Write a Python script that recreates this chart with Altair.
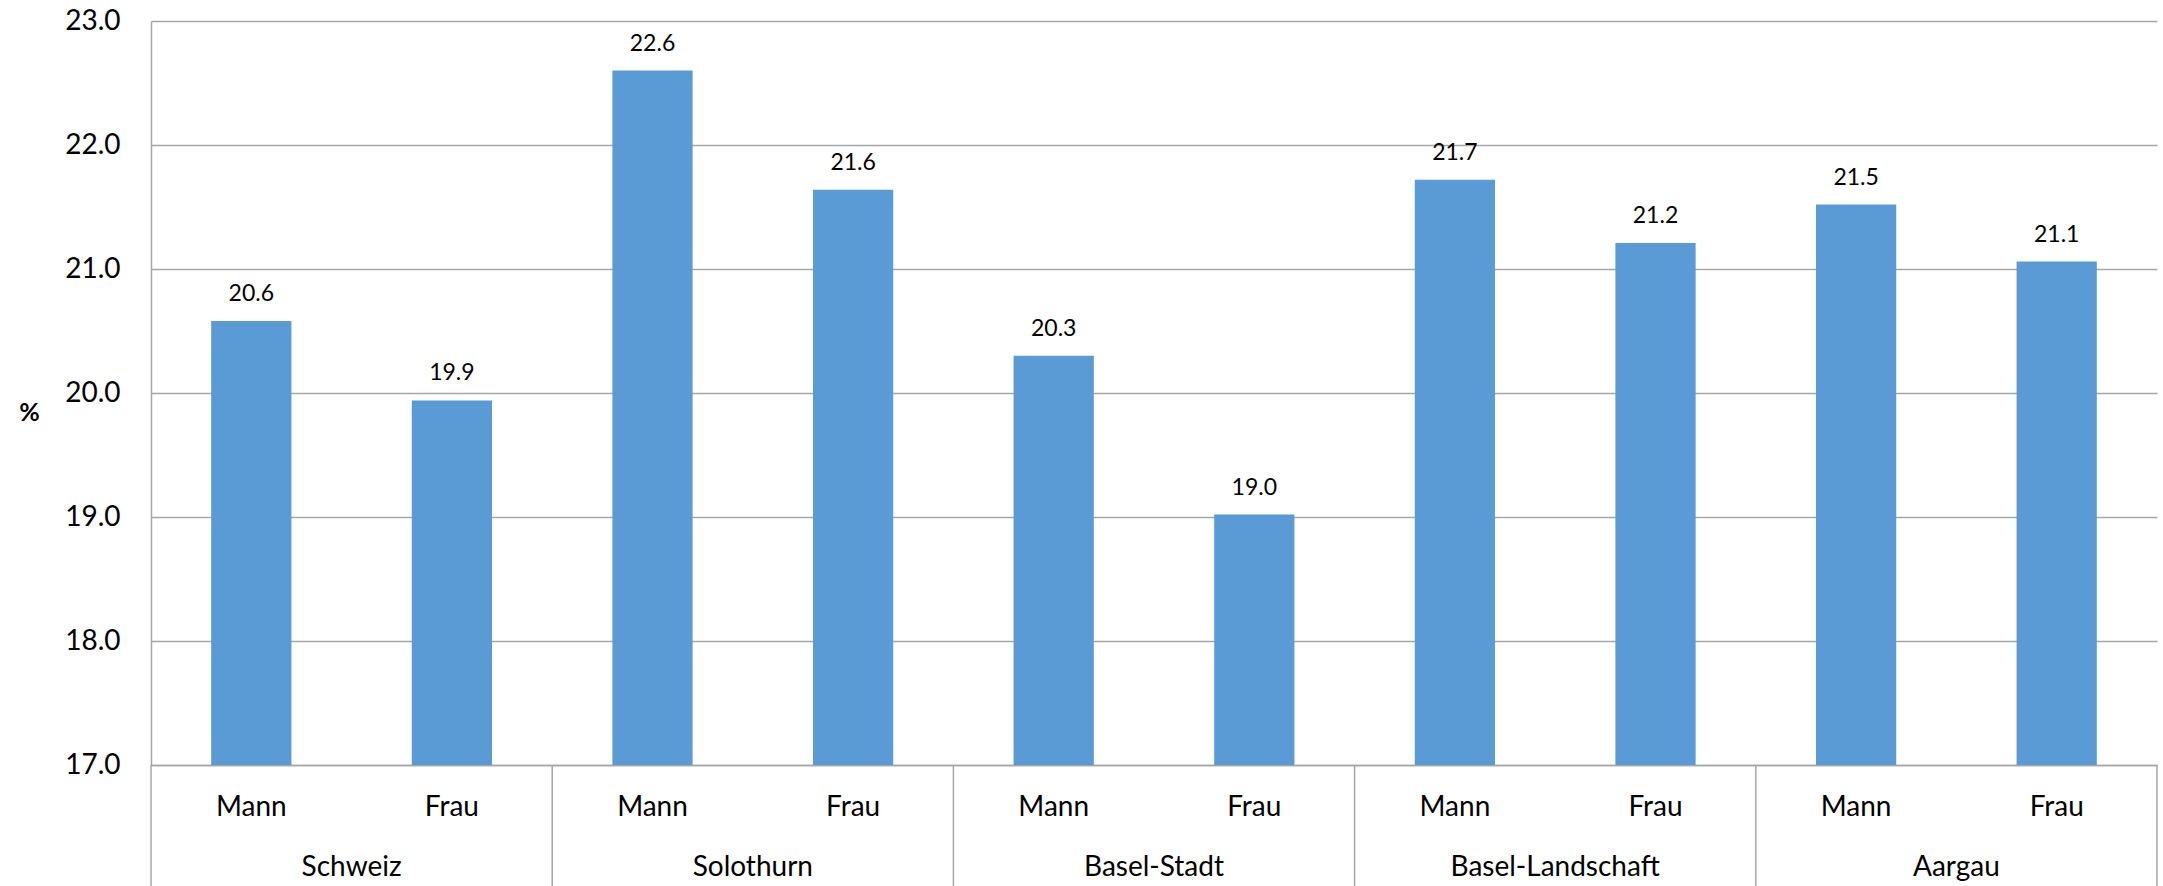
import altair as alt
import pandas as pd

# Kantone / Schweiz und Geschlecht
groups = ["Schweiz", "Solothurn", "Basel-Stadt", "Basel-Landschaft", "Aargau"]
sexes = ["Mann", "Frau"]
werte_mann = [20.58, 22.60, 20.30, 21.72, 21.52]
werte_frau = [19.94, 21.64, 19.02, 21.21, 21.06]
y_ticks = [17, 18, 19, 20, 21, 22, 23]

rows = []
for g, m, f in zip(groups, werte_mann, werte_frau):
    for s, v in zip(sexes, [m, f]):
        rows.append({"gruppe": g, "geschlecht": s, "key": f"{g}|{s}", "wert": v})
df = pd.DataFrame(rows)
key_order = list(df["key"])

grenzen = pd.DataFrame({"b": list(range(len(groups) + 1))})
gruppen_df = pd.DataFrame({"gruppe": groups})

W, H = 2006, 744
BOTTOM = 121
FONT = "Lato"
GRID = "#A6A6A6"
BLUE = "#5B9BD5"

x_bar = alt.X(
    "key:N",
    sort=key_order,
    scale=alt.Scale(paddingInner=0.6, paddingOuter=0.3),
    axis=alt.Axis(
        title=None,
        labelExpr="split(datum.label, '|')[1]",
        labelAngle=0,
        labelFont=FONT,
        labelFontSize=28,
        labelColor="black",
        labelBaseline="middle",
        labelPadding=42,
        ticks=False,
        tickSize=0,
        domain=True,
        domainColor=GRID,
        domainWidth=1.5,
        grid=False,
        orient="bottom",
    ),
)

y_enc = alt.Y(
    "wert:Q",
    scale=alt.Scale(domain=[17, 23], nice=False, zero=False),
    axis=alt.Axis(
        values=y_ticks,
        format=".1f",
        title="%",
        titleAngle=0,
        titleFont=FONT,
        titleFontSize=25,
        titleFontWeight="bold",
        titleColor="black",
        titleX=-122,
        titleY=391,
        titleAlign="center",
        titleBaseline="middle",
        labelFont=FONT,
        labelFontSize=28,
        labelColor="black",
        labelPadding=31,
        ticks=False,
        tickSize=0,
        domain=True,
        domainColor=GRID,
        domainWidth=1.5,
        grid=True,
        gridColor=GRID,
        gridWidth=1.5,
    ),
)

bars = alt.Chart(df).mark_bar(color=BLUE, clip=True).encode(x=x_bar, y=y_enc)

labels = alt.Chart(df).mark_text(
    font=FONT, fontSize=23, color="black", baseline="middle", dy=-27
).encode(
    x=alt.X("key:N", sort=key_order),
    y=alt.Y("wert:Q"),
    text=alt.Text("wert:Q", format=".1f"),
)

balken = alt.layer(bars, labels)

gruppen_text = alt.Chart(gruppen_df).mark_text(
    font=FONT, fontSize=28, color="black", baseline="middle"
).encode(
    x=alt.X(
        "gruppe:N",
        sort=groups,
        scale=alt.Scale(paddingInner=0, paddingOuter=0),
        axis=None,
    ),
    y=alt.value(H + 103),
    text="gruppe:N",
)

trenner = alt.Chart(grenzen).mark_rule(color=GRID, strokeWidth=1.5).encode(
    x=alt.X("b:Q", scale=alt.Scale(domain=[0, len(groups)], nice=False, zero=False), axis=None),
    y=alt.value(H),
    y2=alt.value(H + BOTTOM),
)

chart = (
    alt.layer(balken, gruppen_text, trenner)
    .resolve_scale(x="independent")
    .properties(
        width=W,
        height=H,
        autosize=alt.AutoSizeParams(type="none"),
        padding={"left": 151, "top": 21, "right": 6, "bottom": BOTTOM},
        background="white",
    )
    .configure_view(stroke=None)
)

chart.save("out.html", embed_options={"renderer": "svg", "actions": False})
